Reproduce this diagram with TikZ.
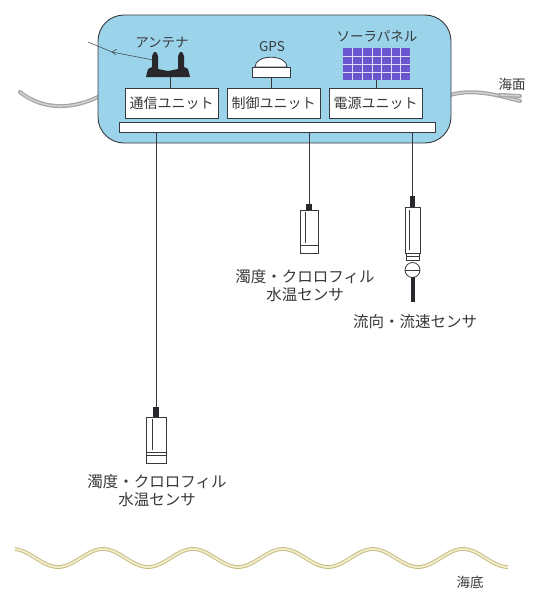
\documentclass[tikz,border=0pt]{standalone}
\usepackage{fontspec}
\newfontfamily\jp{Noto Sans CJK JP}
\usetikzlibrary{positioning}
\definecolor{buoyblue}{RGB}{155,212,234}
\definecolor{inkgray}{RGB}{55,57,60}
\definecolor{antdark}{RGB}{40,40,44}
\definecolor{panelviolet}{RGB}{105,85,205}
\definecolor{sandline}{RGB}{196,186,128}
\definecolor{sandfill}{RGB}{240,236,200}

\begin{document}
\begin{tikzpicture}[x=1pt,y=-1pt,
  unit/.style={draw=inkgray,fill=white,line width=0.8pt,minimum width=93pt,
               minimum height=30pt,inner sep=0pt,font=\jp\fontsize{14}{16}\selectfont,text=inkgray},
  lbl/.style={font=\jp\fontsize{13.5}{16}\selectfont,text=inkgray,align=center,inner sep=0pt},
  senslbl/.style={lbl,font=\jp\fontsize{15.5}{18}\selectfont},
  cable/.style={draw=inkgray,line width=0.7pt},
  rope/.style={draw=gray!70,line width=1.3pt,double=gray!35,double distance=1.4pt,line cap=round},
  sensbody/.style={draw=inkgray,fill=white,line width=0.8pt,inner sep=0pt},
  seabed/.style={draw=sandline,line width=0.9pt,double=sandfill,double distance=2pt}
]
\useasboundingbox (0,0) rectangle (537,597);

% mooring ropes on the sea surface
\draw[rope] (20,92) .. controls (45,112) and (75,108) .. (98,97);
\draw[rope] (450,95) .. controls (475,88) and (500,96) .. (520,101);
\draw[rope] (500,95) -- (520,96);
\node[lbl] (surface) at (512,84) {海面};

% buoy body
\draw[draw=inkgray,fill=buoyblue,line width=0.9pt,rounded corners=26pt]
  (98,15) rectangle (451,143);

% units on the deck
\node[unit] (tx)   at (171.5,103) {通信ユニット};
\node[unit] (ctrl) at (273.5,103) {制御ユニット};
\node[unit] (pwr)  at (375.5,103) {電源ユニット};
\node[draw=inkgray,fill=white,line width=0.8pt,minimum width=316pt,
      minimum height=10pt,inner sep=0pt] (bar) at (277,127) {};

% antenna
\fill[antdark] (146,77) -- (148,69) -- (152,67) -- (152,56) -- (154,52) -- (156,52)
  -- (158,56) -- (158,69) -- (168,71) -- (178,69) -- (178,56) -- (180,52) -- (182,52)
  -- (184,56) -- (184,67) -- (188,69) -- (190,77) -- cycle;
\coordinate (ant) at (170,77);
\draw[inkgray,line width=0.5pt] (153,60) -- (112,52) -- (88,42);
\draw[inkgray,line width=0.5pt] (112,52) -- (117,49) (112,52) -- (116,55);
\node[lbl] (antlbl) at (162,43) {アンテナ};
\draw[cable] (ant) -- (ant |- tx.north);

% GPS receiver
\node[draw=inkgray,fill=white,line width=0.8pt,minimum width=38pt,
      minimum height=10pt,inner sep=0pt] (gps) at (271,72) {};
\draw[draw=inkgray,fill=white,line width=0.8pt]
  (255,67) .. controls (255,54) and (287,54) .. (287,67) -- cycle;
\node[lbl] (gpslbl) at (272,47) {GPS};
\draw[cable] (gps.south) -- (gps.south |- ctrl.north);

% solar panel
\node[fill=panelviolet,minimum width=67pt,minimum height=32pt,inner sep=0pt]
  (panel) at (376,64) {};
\foreach \i in {1,...,6}
  \draw[white!80!panelviolet,line width=0.6pt] (343+\i*9.6,48) -- (343+\i*9.6,80);
\foreach \j in {1,2,3}
  \draw[white!80!panelviolet,line width=0.6pt] (343,48+\j*8) -- (410,48+\j*8);
\node[lbl] (panellbl) at (377,36) {ソーラパネル};
\draw[cable] (panel.south) -- (panel.south |- pwr.north);

% deep turbidity / chlorophyll / temperature sensor
\node[sensbody,minimum width=20pt,minimum height=35pt] (sensA) at (156,434.5) {};
\draw[inkgray,line width=0.5pt] (152,419) -- (152,450);
\node[sensbody,minimum width=20pt,minimum height=11pt] (bandA) at (156,457.5) {};
\draw[inkgray,line width=0.5pt] (bandA.west) ++(0,-2) -- ++(20,0);
\fill[antdark] (153,407) rectangle (159,417);
\draw[cable] (bar.south -| sensA.north) -- (156,407);
\node[senslbl] (lblA) at (157,491) {濁度・クロロフィル\\水温センサ};

% shallow turbidity / chlorophyll / temperature sensor
\node[sensbody,minimum width=18pt,minimum height=35pt] (sensB) at (309,227.5) {};
\draw[inkgray,line width=0.5pt] (305,212) -- (305,243);
\node[sensbody,minimum width=18pt,minimum height=8pt] (bandB) at (309,249) {};
\fill[antdark] (306,204) rectangle (312,210);
\draw[cable] (bar.south -| sensB.north) -- (309,204);
\node[senslbl] (lblB) at (305,286) {濁度・クロロフィル\\水温センサ};

% current direction / speed sensor
\node[sensbody,minimum width=15pt,minimum height=46pt] (sensC) at (412.5,230) {};
\draw[inkgray,line width=0.5pt] (409,210) -- (409,250);
\draw[sensbody] (406,253) rectangle (419,260);
\draw[inkgray,line width=0.5pt] (406,256.5) -- (419,256.5);
\draw[sensbody] (412.5,270) ellipse (7.5pt and 7.5pt);
\draw[inkgray,line width=0.5pt] (405,270) -- (420,270);
\fill[antdark] (410.5,277) rectangle (414.5,302);
\fill[antdark] (410,196) rectangle (415,207);
\draw[cable] (bar.south -| sensC.north) -- (412.5,196);
\node[senslbl] (lblC) at (415,322) {流向・流速センサ};

% sea bottom
\draw[seabed] plot[domain=15:508,samples=160,smooth] (\x,{558-9*cos((\x-103)*4)});
\node[lbl] (bottom) at (470,582) {海底};
\end{tikzpicture}
\end{document}
